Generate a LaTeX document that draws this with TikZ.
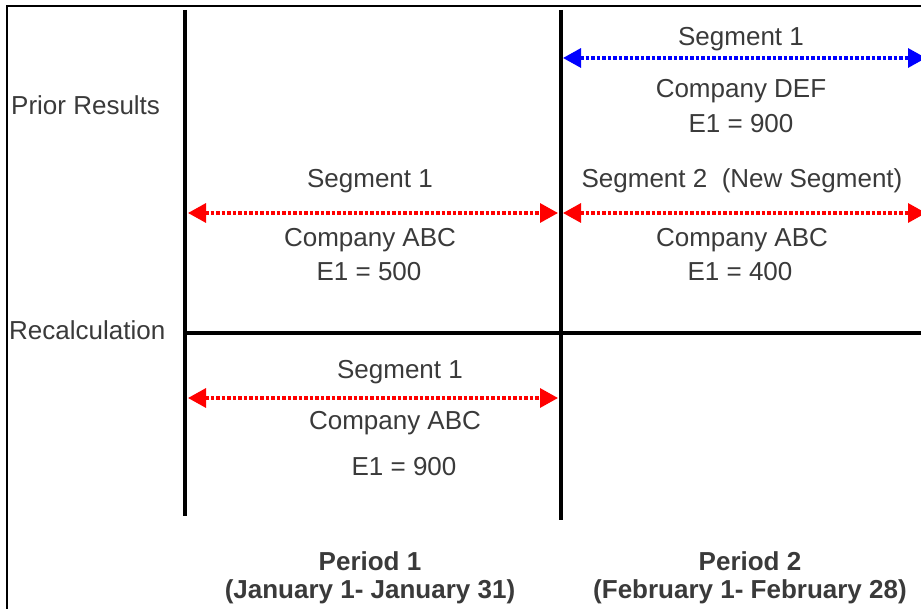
\documentclass[tikz,border=0pt]{standalone}
\usepackage{fontspec}
\setmainfont{Liberation Sans}
\usetikzlibrary{arrows.meta}
\definecolor{txt}{HTML}{3A3A3A}
\definecolor{segred}{HTML}{FF0000}
\definecolor{segblue}{HTML}{0000FF}
\tikzset{
  lbl/.style={text=txt,font=\fontsize{26}{30}\selectfont,inner sep=0pt,anchor=center},
  plbl/.style={text=txt,font=\fontsize{26}{30}\selectfont\bfseries,inner sep=0pt,anchor=center},
  rowlbl/.style={text=txt,font=\fontsize{26}{30}\selectfont,inner sep=0pt,anchor=west},
  axis/.style={line width=3.2pt,black},
  frame/.style={line width=1.4pt,black},
  seg/.style={line width=3.2pt,dash pattern=on 3.5pt off 2pt,
    {Triangle[length=18pt,width=19pt]}-{Triangle[length=18pt,width=19pt]}},
}
\begin{document}
\begin{tikzpicture}[x=1pt,y=-1pt]
\useasboundingbox (0,0) rectangle (921,609);
\clip (0,0) rectangle (921,609);
\fill[white] (0,0) rectangle (921,609);
% frame
\coordinate (fTL) at (7,6);
\coordinate (fTR) at (925,6);
\coordinate (fBL) at (7,615);
\draw[frame] (fBL) -- (fTL) -- (fTR);
% axes
\coordinate (v1t) at (185,10);
\coordinate (v1b) at (185,516);
\coordinate (v2t) at (561,10);
\coordinate (v2b) at (561,520);
\coordinate (hl) at (185,333);
\coordinate (hr) at (925,333);
\draw[axis] (v1t) -- (v1b);
\draw[axis] (v2t) -- (v2b);
\draw[axis] (hl) -- (hr);
% row labels
\node[rowlbl] (prior) at (11,105) {Prior Results};
\node[rowlbl] (recalc) at (9,330) {Recalculation};
% blue segment
\coordinate (b1) at (563,58);
\coordinate (b2) at (926,58);
\draw[seg,segblue] (b1) -- (b2);
\node[lbl] (bseg) at (741,39) {Segment 1};
\node[lbl] (bcomp) at (741,91) {Company DEF};
\node[lbl] (bval) at (741,124) {E1 = 900};
% red segment 1 (prior, period 1)
\coordinate (r1a) at (188,213);
\coordinate (r1b) at (558,213);
\draw[seg,segred] (r1a) -- (r1b);
\node[lbl] (r1seg) at (370,181) {Segment 1};
\node[lbl] (r1comp) at (370,240) {Company ABC};
\node[lbl] (r1val) at (369,272) {E1 = 500};
% red segment 2 (prior, period 2)
\coordinate (r2a) at (563,213);
\coordinate (r2b) at (926,213);
\draw[seg,segred] (r2a) -- (r2b);
\node[lbl] (r2seg) at (742,181) {Segment 2\ \ (New Segment)};
\node[lbl] (r2comp) at (742,240) {Company ABC};
\node[lbl] (r2val) at (740,272) {E1 = 400};
% red segment 3 (recalculation)
\coordinate (r3a) at (188,398);
\coordinate (r3b) at (558,398);
\draw[seg,segred] (r3a) -- (r3b);
\node[lbl] (r3seg) at (400,372) {Segment 1};
\node[lbl] (r3comp) at (395,423) {Company ABC};
\node[lbl] (r3val) at (404,467) {E1 = 900};
% periods
\node[plbl] (p1) at (370,561) {Period 1};
\node[plbl] (p1d) at (370,592) {(January 1- January 31)};
\node[plbl] (p2) at (750,561) {Period 2};
\node[plbl] (p2d) at (750,592) {(February 1- February 28)};
\end{tikzpicture}
\end{document}
